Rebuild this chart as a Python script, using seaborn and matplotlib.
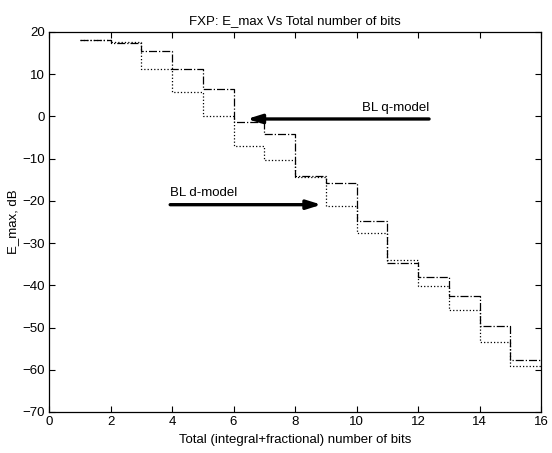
import numpy as np
import pandas as pd
import matplotlib
matplotlib.use("Agg")
import matplotlib.pyplot as plt
import seaborn as sns

# Data
bits = [1, 2, 3, 4, 5, 6, 7, 8, 9, 10, 11, 12, 13, 14, 15, 16]
q_model = [18.2, 17.4, 15.5, 11.2, 6.5, -1.4, -4.2, -14.2, -15.8, -24.8, -34.8, -38.0, -42.5, -49.6, -57.6, -57.6]
d_model = [18.2, 17.6, 11.3, 5.9, 0.2, -6.9, -10.4, -14.3, -21.1, -27.6, -33.9, -40.2, -45.8, -53.5, -59.1, -59.1]
title = "FXP: E_max Vs Total number of bits"
xlabel = "Total (integral+fractional) number of bits"
ylabel = "E_max, dB"
xticks = [0, 2, 4, 6, 8, 10, 12, 14, 16]
yticks = [20, 10, 0, -10, -20, -30, -40, -50, -60, -70]

sns.set_style("ticks")
plt.rcParams['font.family'] = ['Liberation Sans', 'DejaVu Sans']
plt.rcParams['font.size'] = 9.5
plt.rcParams['text.color'] = 'black'
plt.rcParams['axes.labelcolor'] = 'black'
plt.rcParams['xtick.color'] = 'black'
plt.rcParams['ytick.color'] = 'black'

df = pd.DataFrame({"bits": bits + bits,
                   "E": q_model + d_model,
                   "model": ["q"] * len(bits) + ["d"] * len(bits)})

fig = plt.figure(figsize=(5.52, 4.53), dpi=100)
ax = fig.add_axes([49/552, 41/453, (541-49)/552, (412-32)/453])

sns.lineplot(data=df[df.model == "q"], x="bits", y="E", ax=ax, color="black",
             linewidth=0.9, drawstyle="steps-post", linestyle="-.", legend=False)
sns.lineplot(data=df[df.model == "d"], x="bits", y="E", ax=ax, color="black",
             linewidth=0.9, drawstyle="steps-post", linestyle=":", legend=False)

ax.set_xlim(0, 16)
ax.set_ylim(-70, 20)
ax.set_xticks(xticks)
ax.set_yticks(yticks)
ax.tick_params(direction="in", top=True, right=True, length=4, width=0.8, labelsize=9.5, pad=3)
for s in ax.spines.values():
    s.set_linewidth(0.9)
    s.set_color("black")

ax.set_title(title, fontsize=9.5, pad=6)
ax.set_xlabel(xlabel, fontsize=9.5, labelpad=4)
ax.set_ylabel(ylabel, fontsize=9.5, labelpad=2)

# arrows
ax.annotate("", xy=(6.35, -0.6), xytext=(12.45, -0.6),
            arrowprops=dict(arrowstyle="-|>,head_length=0.9,head_width=0.28", lw=2.4, color="black"))
ax.text(12.35, 0.6, "BL q-model", ha="right", va="bottom", fontsize=9.5)
ax.annotate("", xy=(8.95, -20.9), xytext=(3.85, -20.9),
            arrowprops=dict(arrowstyle="-|>,head_length=0.9,head_width=0.28", lw=2.4, color="black"))
ax.text(3.95, -19.6, "BL d-model", ha="left", va="bottom", fontsize=9.5)

fig.savefig("out.png", dpi=100)
